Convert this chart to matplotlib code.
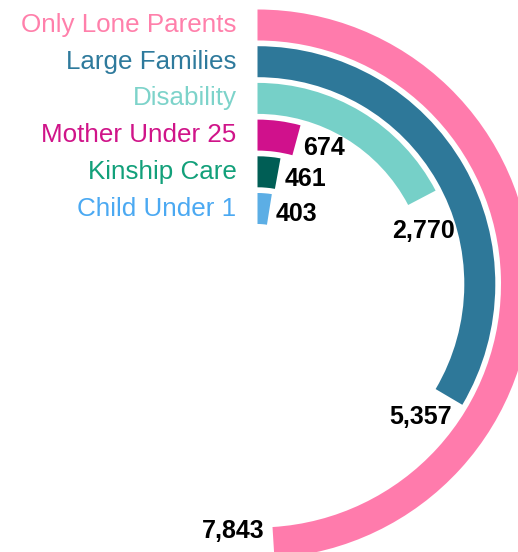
import numpy as np
import matplotlib
matplotlib.use("Agg")
import matplotlib.pyplot as plt

# data, outermost ring first
categories = ["Only Lone Parents", "Large Families", "Disability",
              "Mother Under 25", "Kinship Care", "Child Under 1"]
values = [7843, 5357, 2770, 674, 461, 403]
value_labels = ["7,843", "5,357", "2,770", "674", "461", "403"]

bar_colors = ["#FF7BAC", "#2E7899", "#76D0C8", "#D0118C", "#005E55", "#5CAEE5"]
text_colors = ["#FF80AB", "#2E7A9C", "#7DD3CA", "#D01489", "#12A07A", "#4BA9F2"]

full_circle = 16000  # value that would close the ring

plt.rcParams['font.family'] = ['Liberation Sans', 'DejaVu Sans']

W, H = 518, 552
fig = plt.figure(figsize=(W / 100, H / 100), dpi=100)
cx, cy = 257.5, 284  # centre, pixels from top-left
R = 280
ax = fig.add_axes([(cx - R) / W, (H - cy - R) / H, 2 * R / W, 2 * R / H],
                  projection='polar')
ax.set_theta_zero_location('N')
ax.set_theta_direction(-1)
ax.set_ylim(0, R)
ax.axis('off')

pitch = 36.7
thick = 31
outer0 = 274.5

for i, (cat, v, lab) in enumerate(zip(categories, values, value_labels)):
    outer = outer0 - pitch * i
    inner = outer - thick
    mid = (outer + inner) / 2
    theta = v / full_circle * 2 * np.pi
    ax.bar(0, thick, width=theta, bottom=inner, align='edge',
           color=bar_colors[i], linewidth=0)

    # category label to the left of the ring start
    ax.annotate(cat, xy=(0, mid), xytext=(-21, 0), textcoords='offset pixels',
                ha='right', va='center', fontsize=18.7, color=text_colors[i],
                annotation_clip=False)

    # value label just past the end of the bar, along the arc
    tx, ty = np.cos(theta), -np.sin(theta)
    half_w = 6.2 * len(lab)
    d = 8 + half_w * abs(tx) + 9 * abs(ty)
    inward = 14 if v >= 1000 else 0
    dx = tx * d - np.sin(theta) * inward
    dy = ty * d - np.cos(theta) * inward
    ax.annotate(lab, xy=(theta, mid), xytext=(dx, dy),
                textcoords='offset pixels', ha='center', va='center',
                fontsize=18, fontweight='bold', color='black',
                annotation_clip=False)

plt.savefig("out.png", dpi=100)
